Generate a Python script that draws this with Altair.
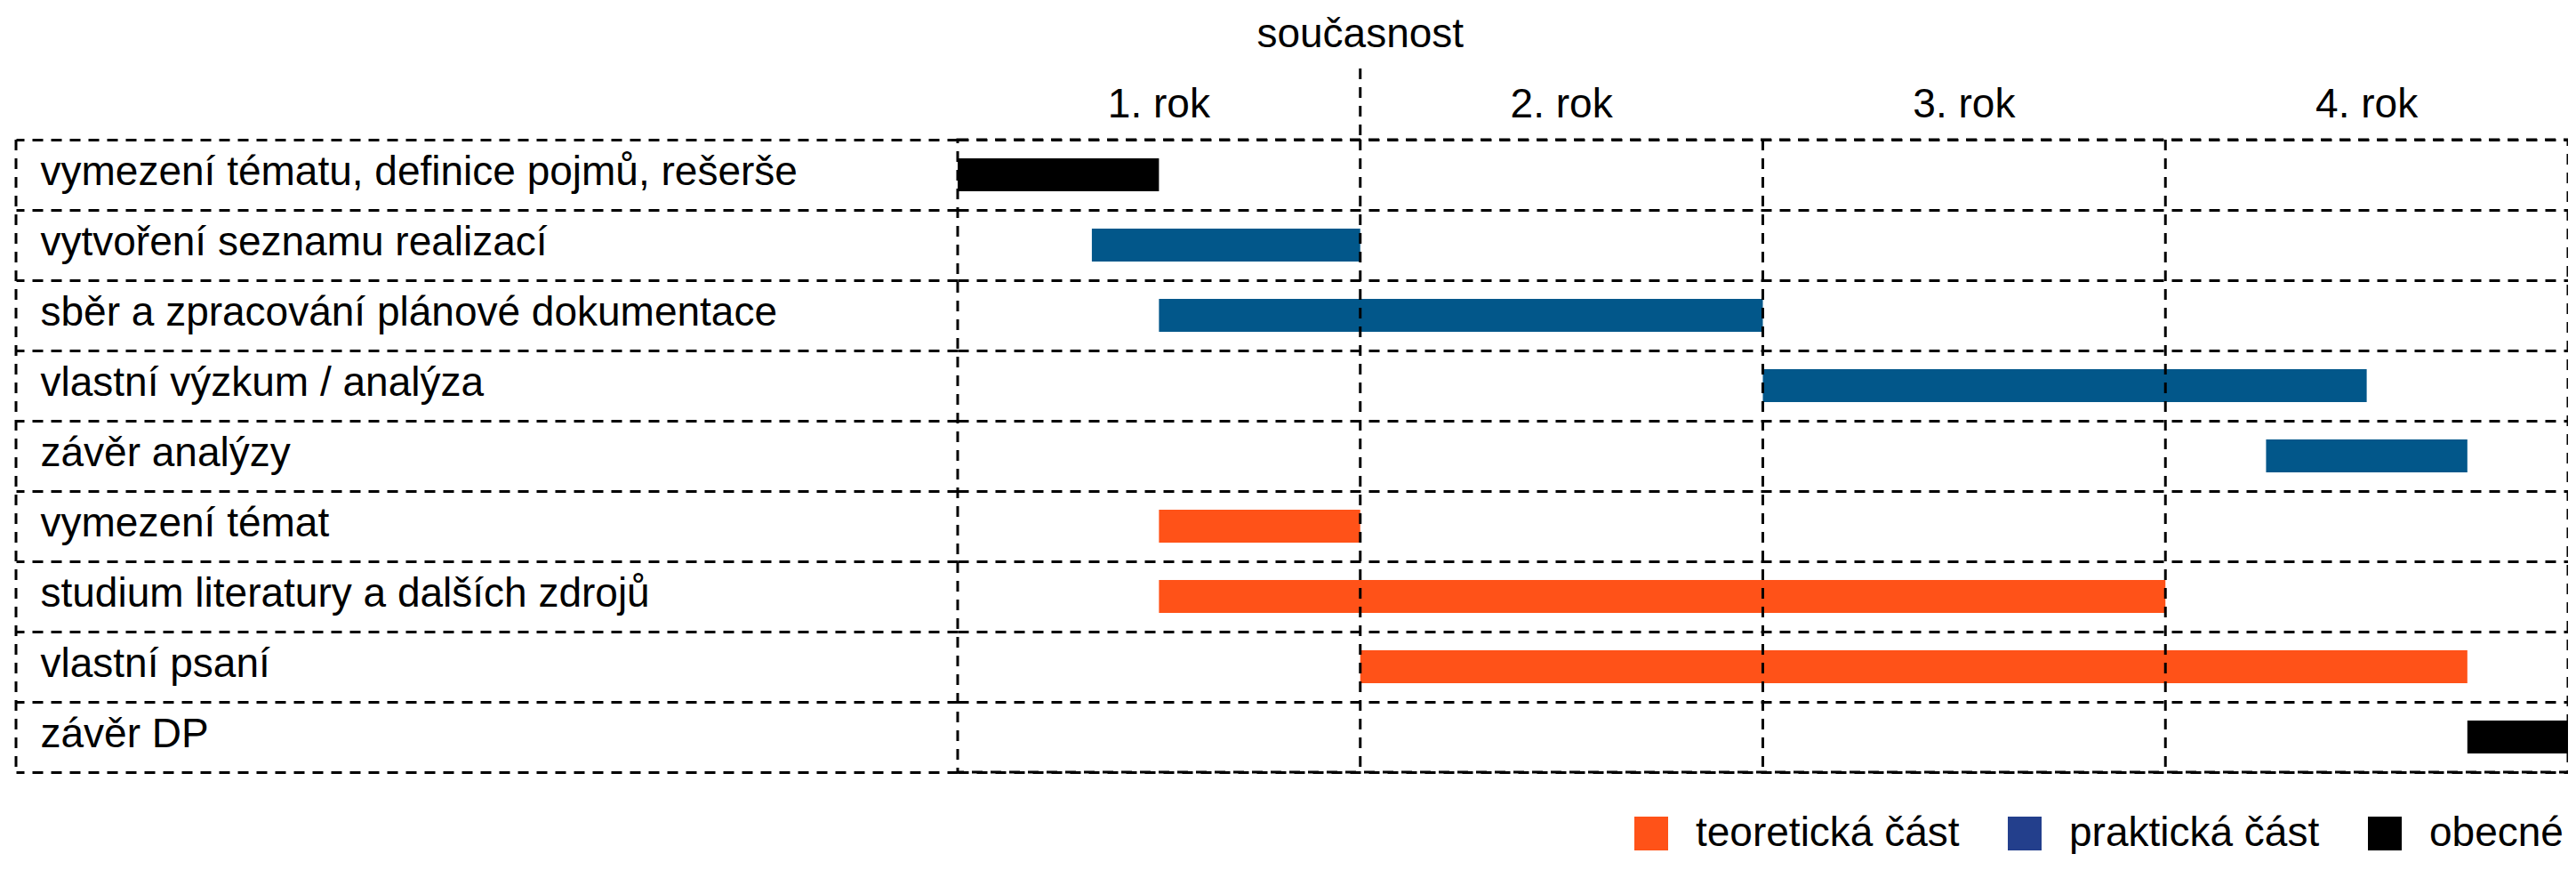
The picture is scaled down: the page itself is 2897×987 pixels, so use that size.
import altair as alt
import pandas as pd

# ---------------- data ----------------
tasks = [
    "vymezení tématu, definice pojmů, rešerše",
    "vytvoření seznamu realizací",
    "sběr a zpracování plánové dokumentace",
    "vlastní výzkum / analýza",
    "závěr analýzy",
    "vymezení témat",
    "studium literatury a dalších zdrojů",
    "vlastní psaní",
    "závěr DP",
]
starts = [0.0, 1 / 3, 0.5, 2.0, 3.25, 0.5, 0.5, 1.0, 3.75]
ends = [0.5, 1.0, 2.0, 3.5, 3.75, 1.0, 3.0, 3.75, 4.0]
parts = [
    "obecné",
    "praktická část",
    "praktická část",
    "praktická část",
    "praktická část",
    "teoretická část",
    "teoretická část",
    "teoretická část",
    "obecné",
]
year_labels = ["1. rok", "2. rok", "3. rok", "4. rok"]
current_pos = [1.0]
current_label = ["současnost"]
legend_parts = ["teoretická část", "praktická část", "obecné"]
legend_colors = ["#FF5218", "#233F8C", "#000000"]
bar_colors = {"teoretická část": "#FF5218", "praktická část": "#02578A", "obecné": "#000000"}

# ---------------- style ----------------
FONT = "Liberation Sans"
FS = 46
DASH = [12, 9]
LW = 3
W = 1811
H = 711
LABEL_COL = 1059

df = pd.DataFrame({"task": tasks, "start": starts, "end": ends, "part": parts})
df["color"] = df["part"].map(bar_colors)
years_df = pd.DataFrame({"label": year_labels, "center": [i + 0.5 for i in range(len(year_labels))]})
bounds_df = pd.DataFrame({"b": list(range(1, len(year_labels)))})
cur_df = pd.DataFrame({"pos": current_pos, "label": current_label})
legend_df = pd.DataFrame({"part": legend_parts})

x_scale = alt.Scale(domain=[0, len(year_labels)], nice=False, zero=False)

y_enc = alt.Y(
    "task:N",
    sort=tasks,
    scale=alt.Scale(paddingInner=0, paddingOuter=0),
    axis=alt.Axis(
        title=None,
        tickBand="extent",
        ticks=True,
        tickSize=LABEL_COL,
        tickDash=DASH,
        tickWidth=LW,
        tickColor="black",
        tickOpacity=1,
        grid=True,
        gridDash=DASH,
        gridWidth=LW,
        gridColor="black",
        gridOpacity=1,
        domain=False,
        labelAlign="left",
        labelBaseline="middle",
        labelPadding=-27,
        labelFontSize=FS,
        labelFont=FONT,
        labelColor="black",
        labelLimit=1100,
        labelOffset=-3,
    ),
)

bars = alt.Chart(df).mark_bar(size=37).encode(
    x=alt.X("start:Q", scale=x_scale, axis=None, title=None),
    x2="end:Q",
    y=y_enc,
    fill=alt.Fill("color:N", scale=None),
)

year_rules = alt.Chart(bounds_df).mark_rule(
    color="black", strokeWidth=LW, strokeDash=DASH
).encode(x=alt.X("b:Q", scale=x_scale, axis=None, title=None))

left_border = alt.Chart(cur_df).mark_rule(
    color="black", strokeWidth=LW, strokeDash=DASH
).encode(x=alt.value(-LABEL_COL), y=alt.value(0), y2=alt.value(H))

cur_rule = alt.Chart(cur_df).mark_rule(
    color="black", strokeWidth=LW, strokeDash=DASH
).encode(
    x=alt.X("pos:Q", scale=x_scale, axis=None, title=None),
    y=alt.value(-80),
    y2=alt.value(0),
)

cur_text = alt.Chart(cur_df).mark_text(
    fontSize=FS, font=FONT, baseline="alphabetic", align="center", color="black"
).encode(
    x=alt.X("pos:Q", scale=x_scale, axis=None, title=None),
    y=alt.value(-104),
    text="label:N",
)

year_text = alt.Chart(years_df).mark_text(
    fontSize=FS, font=FONT, baseline="alphabetic", align="center", color="black"
).encode(
    x=alt.X("center:Q", scale=x_scale, axis=None, title=None),
    y=alt.value(-25),
    text="label:N",
)

legend_layer = alt.Chart(legend_df).transform_filter("false").mark_square(
    opacity=1, filled=True
).encode(
    color=alt.Color(
        "part:N",
        scale=alt.Scale(domain=legend_parts, range=legend_colors),
        legend=alt.Legend(
            title=None,
            orient="none",
            legendX=757,
            legendY=757,
            direction="horizontal",
            symbolType="square",
            symbolSize=1444,
            symbolStrokeWidth=0,
            symbolOpacity=1,
            labelFontSize=FS,
            labelFont=FONT,
            labelColor="black",
            labelOffset=27,
            labelLimit=600,
            columnPadding=50,
            padding=0,
        ),
    )
)

chart = (
    alt.layer(bars, year_rules, left_border, cur_rule, cur_text, year_text, legend_layer)
    .properties(width=W, height=H, padding={"left": 8, "top": 8, "right": 0, "bottom": 0})
    .configure(font=FONT)
    .configure_view(stroke="black", strokeDash=DASH, strokeWidth=LW)
)

chart.save("out.html", embed_options={"renderer": "svg", "actions": False})
